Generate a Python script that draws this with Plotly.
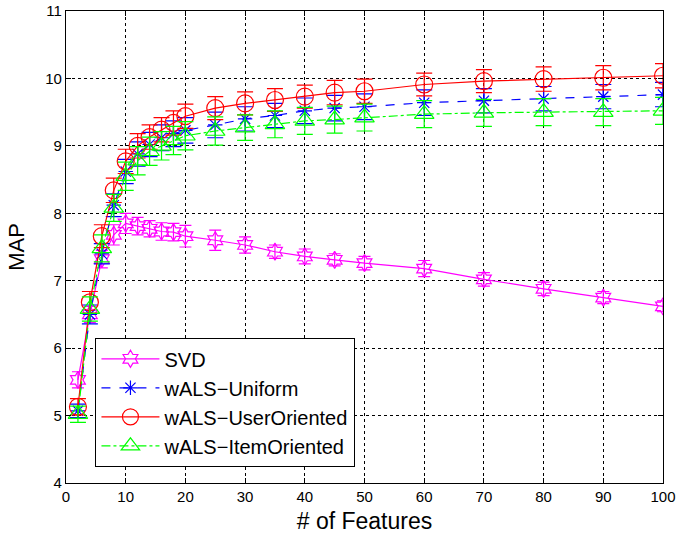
import plotly.graph_objects as go

features = [2, 4, 6, 8, 10, 12, 14, 16, 18, 20, 25, 30, 35, 40, 45, 50, 60, 70, 80, 90, 100]

svd = [5.53, 6.50, 7.32, 7.68, 7.85, 7.81, 7.77, 7.73, 7.72, 7.66, 7.60, 7.53, 7.43, 7.36, 7.31, 7.26, 7.18, 7.02, 6.88, 6.75, 6.62]
svd_err = [0.12, 0.12, 0.13, 0.15, 0.15, 0.13, 0.12, 0.13, 0.13, 0.16, 0.15, 0.12, 0.10, 0.11, 0.09, 0.10, 0.12, 0.10, 0.10, 0.09, 0.08]

uniform = [5.07, 6.50, 7.40, 8.12, 8.62, 8.88, 9.02, 9.12, 9.18, 9.23, 9.31, 9.40, 9.45, 9.52, 9.56, 9.58, 9.64, 9.67, 9.70, 9.73, 9.76]
uniform_err = [0.10, 0.14, 0.15, 0.17, 0.18, 0.18, 0.18, 0.19, 0.19, 0.19, 0.19, 0.18, 0.18, 0.19, 0.19, 0.19, 0.19, 0.18, 0.18, 0.18, 0.18]

user = [5.13, 6.68, 7.66, 8.34, 8.77, 9.00, 9.13, 9.24, 9.34, 9.44, 9.56, 9.63, 9.68, 9.73, 9.79, 9.81, 9.91, 9.96, 9.99, 10.01, 10.04]
user_err = [0.12, 0.16, 0.17, 0.18, 0.18, 0.18, 0.18, 0.18, 0.18, 0.18, 0.17, 0.17, 0.17, 0.17, 0.18, 0.18, 0.17, 0.17, 0.18, 0.18, 0.18]

item = [5.02, 6.58, 7.48, 8.08, 8.55, 8.78, 8.92, 9.00, 9.08, 9.15, 9.22, 9.27, 9.32, 9.37, 9.39, 9.42, 9.47, 9.49, 9.50, 9.50, 9.52]
item_err = [0.12, 0.18, 0.20, 0.20, 0.21, 0.21, 0.21, 0.21, 0.21, 0.21, 0.21, 0.19, 0.20, 0.20, 0.20, 0.20, 0.20, 0.20, 0.20, 0.20, 0.20]

series = [
    ("SVD", svd, svd_err, "#ff00ff", "solid", "hexagram-open", 13, 6),
    ("wALS\u2212Uniform", uniform, uniform_err, "#0000ff", "dash", "asterisk-open", 12, 8),
    ("wALS\u2212UserOriented", user, user_err, "#ff0000", "solid", "circle-open", 17, 8),
    ("wALS\u2212ItemOriented", item, item_err, "#00ff00", "dashdot", "triangle-up-open", 17, 8),
]

fig = go.Figure()
for name, vals, errs, color, dash, symbol, size, capw in series:
    fig.add_trace(go.Scatter(
        x=features, y=vals, name=name, mode="lines+markers",
        line=dict(color=color, width=1.2, dash=dash),
        marker=dict(symbol=symbol, size=size, color=color, line=dict(color=color, width=1.2)),
        error_y=dict(type="data", array=errs, visible=True, color=color, thickness=1.2, width=capw),
    ))

axis_common = dict(
    showline=True, linecolor="black", linewidth=1.2, mirror="ticks",
    ticks="inside", ticklen=5, tickcolor="black",
    showgrid=True, gridcolor="black", gridwidth=1, griddash="dot",
    zeroline=False, automargin=False,
    tickfont=dict(family="Liberation Sans, Arial, sans-serif", size=15, color="black"),
)

fig.update_layout(
    width=678, height=538,
    margin=dict(l=66, r=15, t=11, b=55),
    paper_bgcolor="white", plot_bgcolor="white",
    font=dict(family="Liberation Sans, Arial, sans-serif", color="black"),
    xaxis=dict(range=[0, 100], dtick=10, tick0=0,
               title=dict(text="# of Features", font=dict(size=23), standoff=8), **axis_common),
    yaxis=dict(range=[4, 11], dtick=1, tick0=4,
               title=dict(text="MAP", font=dict(size=22), standoff=14), **axis_common),
    legend=dict(x=0.049, y=0.307, xanchor="left", yanchor="top",
                bgcolor="white", bordercolor="black", borderwidth=1.2,
                font=dict(size=20, color="black"), tracegroupgap=2,
                itemwidth=58),
    showlegend=True,
)

fig.write_html("out.html", config={"displayModeBar": False},
               post_script="document.body.style.margin='0px';")
